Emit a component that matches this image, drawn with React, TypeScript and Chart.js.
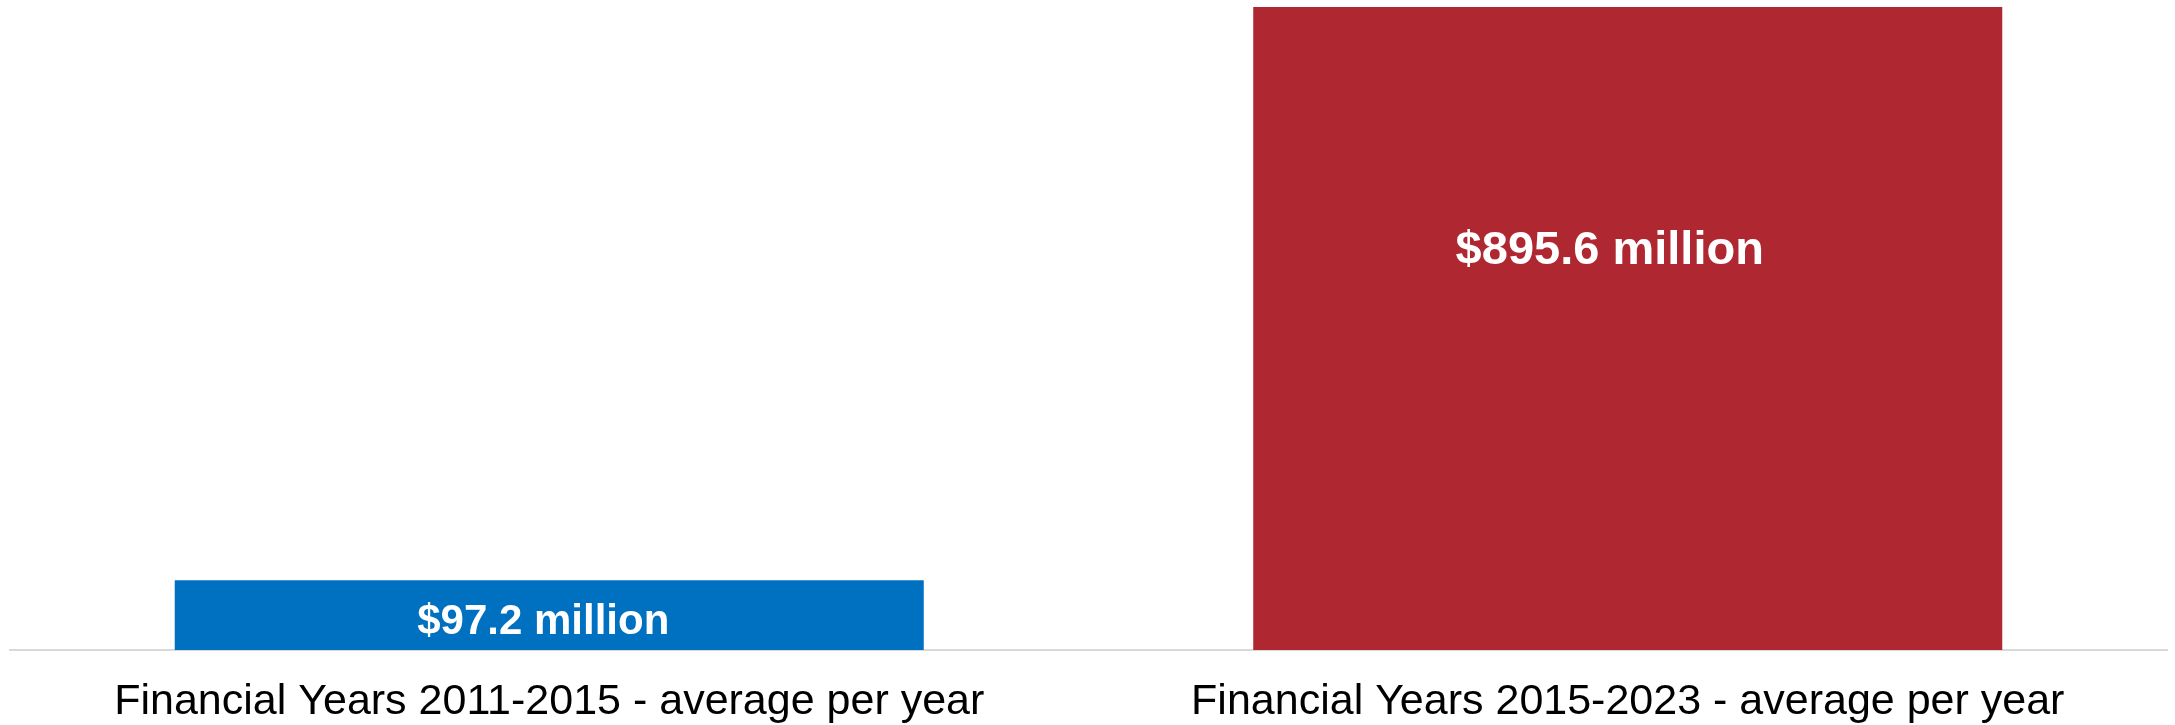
import React, { useEffect, useRef } from "react";
import { Chart, registerables } from "chart.js";

Chart.register(...registerables);

const categories: string[] = [
  "Financial Years 2011-2015 - average per year",
  "Financial Years 2015-2023 - average per year",
];
const values: number[] = [97.2, 895.6];
const valueLabels: string[] = ["$97.2 million", "$895.6 million"];

const barColors = ["#0070C0", "#AF2730"];
const labelFontSizes = [42, 47];
const labelBaselineFrac = [0.77, 0.399];
const labelDx = [-6, -18];
const FONT = "'Liberation Sans', Arial, Helvetica, sans-serif";

const valueLabelPlugin = {
  id: "valueLabels",
  afterDatasetsDraw(chart: any) {
    const ctx = chart.ctx;
    const meta = chart.getDatasetMeta(0);
    ctx.save();
    ctx.fillStyle = "#FFFFFF";
    ctx.textAlign = "center";
    ctx.textBaseline = "alphabetic";
    meta.data.forEach((bar: any, i: number) => {
      const top = Math.min(bar.y, bar.base);
      const bottom = Math.max(bar.y, bar.base);
      const y = top + (bottom - top) * labelBaselineFrac[i];
      ctx.font = `bold ${labelFontSizes[i]}px ${FONT}`;
      ctx.fillText(valueLabels[i], bar.x + labelDx[i], y);
    });
    ctx.restore();
  },
};

export default function App() {
  const canvasRef = useRef<HTMLCanvasElement | null>(null);

  useEffect(() => {
    if (!canvasRef.current) return;
    const chart = new Chart(canvasRef.current, {
      type: "bar",
      data: {
        labels: categories,
        datasets: [
          {
            data: values,
            backgroundColor: barColors,
            borderWidth: 0,
            categoryPercentage: 1,
            barPercentage: 0.6945,
          },
        ],
      },
      options: {
        responsive: true,
        maintainAspectRatio: false,
        animation: false,
        layout: { padding: { top: 7, left: 10, right: 8, bottom: 0 } },
        plugins: {
          legend: { display: false },
          tooltip: { enabled: false },
          title: { display: false },
        },
        scales: {
          x: {
            grid: { display: false, drawTicks: false },
            border: { display: true, color: "#D9D9D9", width: 2 },
            ticks: {
              color: "#000000",
              font: { family: FONT, size: 43 },
              padding: 26,
              maxRotation: 0,
              autoSkip: false,
            },
            afterFit(scale: any) {
              scale.height = 75;
            },
          },
          y: {
            display: false,
            min: 0,
            max: Math.max(...values),
          },
        },
      },
      plugins: [valueLabelPlugin],
    });
    return () => chart.destroy();
  }, []);

  return (
    <div
      style={{
        position: "fixed",
        left: 0,
        top: 0,
        width: "2175px",
        height: "725px",
        background: "#FFFFFF",
      }}
    >
      <canvas ref={canvasRef} />
    </div>
  );
}
